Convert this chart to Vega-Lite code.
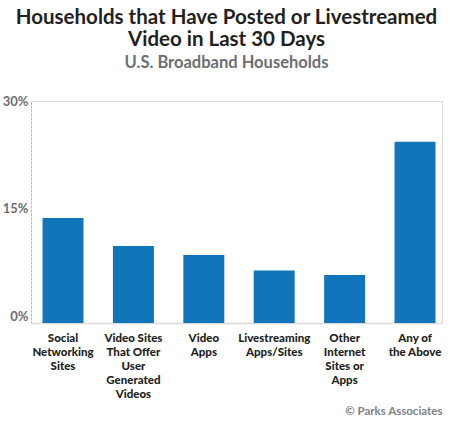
{
  "$schema": "https://vega.github.io/schema/vega-lite/v6.json",
  "autosize": "none",
  "padding": {"left": 31, "top": 101, "right": 8, "bottom": 102},
  "width": 411,
  "height": 222,
  "background": "white",
  "title": {
    "text": ["Households that Have Posted or Livestreamed", "Video in Last 30 Days"],
    "subtitle": "U.S. Broadband Households",
    "anchor": "middle",
    "dx": -10,
    "offset": 24,
    "font": "Lato",
    "fontSize": 20.5,
    "fontWeight": "bold",
    "color": "#231f20",
    "lineHeight": 22,
    "subtitleFont": "Lato",
    "subtitleFontSize": 16.5,
    "subtitleFontWeight": "bold",
    "subtitleColor": "#6d6e71",
    "subtitlePadding": 4
  },
  "data": {
    "values": [
      {"category": "Social|Networking|Sites", "share": 14.2},
      {"category": "Video Sites|That Offer|User|Generated|Videos", "share": 10.4},
      {"category": "Video|Apps", "share": 9.2},
      {"category": "Livestreaming|Apps/Sites", "share": 7.1},
      {"category": "Other|Internet|Sites or|Apps", "share": 6.5},
      {"category": "Any of|the Above", "share": 24.5}
    ]
  },
  "mark": {"type": "bar", "color": "#1175bc"},
  "encoding": {
    "x": {
      "field": "category",
      "type": "nominal",
      "sort": null,
      "scale": {"paddingInner": 0.418, "paddingOuter": 0.128, "align": 0.64},
      "axis": {
        "title": "© Parks Associates",
        "titleFont": "Lato",
        "titleFontSize": 11.5,
        "titleFontWeight": "bold",
        "titleColor": "#808285",
        "titleAnchor": "end",
        "titleX": 411,
        "titleY": 82,
        "labelExpr": "split(datum.label, '|')",
        "labelAngle": 0,
        "labelFont": "Lato",
        "labelFontSize": 11.5,
        "labelFontWeight": 900,
        "labelColor": "#231f20",
        "labelLineHeight": 14,
        "labelPadding": 9,
        "labelLimit": 0,
        "labelOverlap": false,
        "ticks": false,
        "domainColor": "#d9d9d9",
        "domainWidth": 1.5
      }
    },
    "y": {
      "field": "share",
      "type": "quantitative",
      "scale": {"domain": [0, 30]},
      "axis": {
        "title": null,
        "values": [0, 15, 30],
        "labelExpr": "datum.value + '%'",
        "labelFont": "Lato",
        "labelFontSize": 13,
        "labelFontWeight": "bold",
        "labelColor": "#6d6e71",
        "labelPadding": 3,
        "labelOffset": {"condition": [{"test": "datum.value == 0", "value": -7}, {"test": "datum.value == 15", "value": -3.5}], "value": 0},
        "ticks": false,
        "grid": false,
        "domainColor": "#999999",
        "domainDash": [1, 3]
      }
    }
  }
}
